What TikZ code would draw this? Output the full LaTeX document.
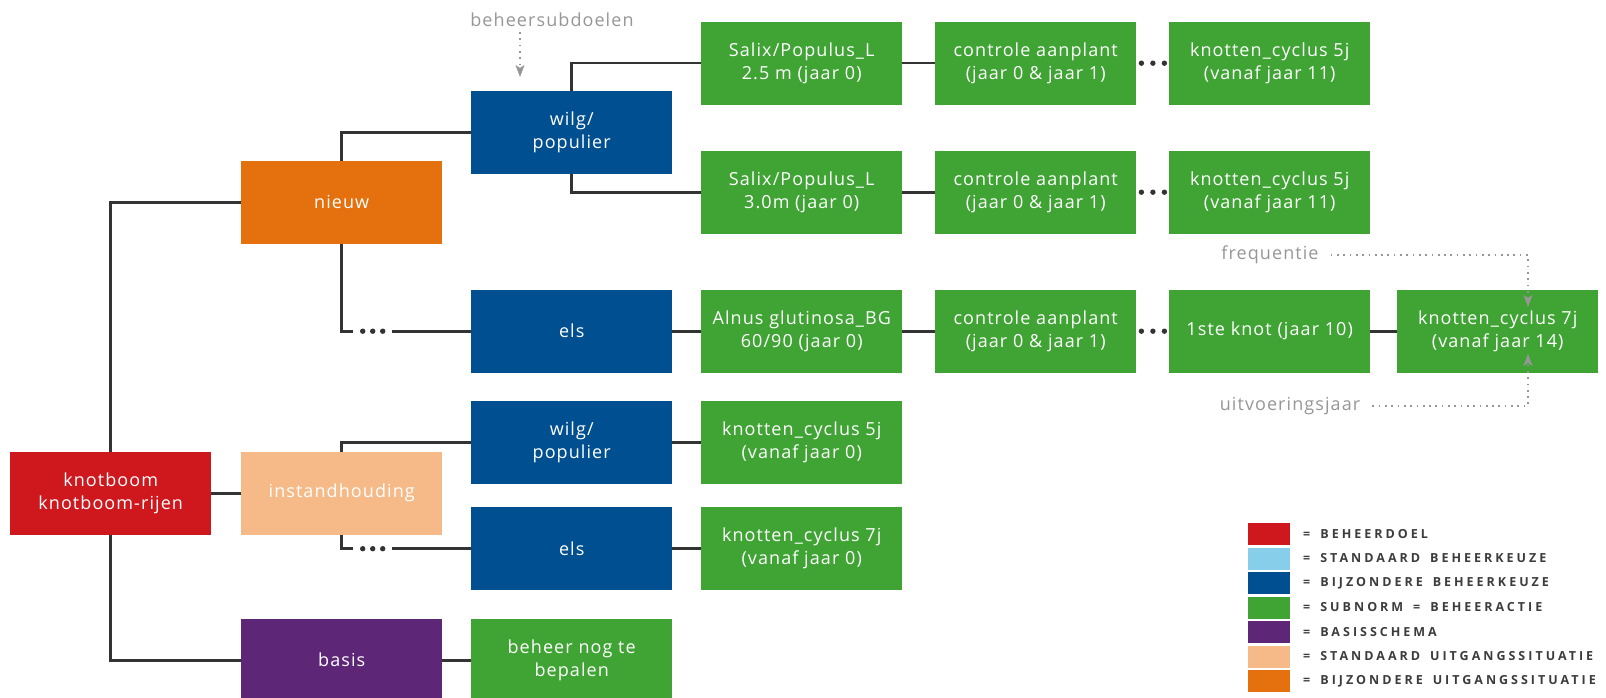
\documentclass[tikz,border=0pt]{standalone}
\usepackage{fontspec}
\setmainfont{Open Sans}
\newfontfamily\boxfnt[LetterSpace=6]{Open Sans}
\newfontfamily\legfnt[LetterSpace=24]{Open Sans}
\usetikzlibrary{arrows.meta}
\definecolor{cRed}{RGB}{206,24,30}
\definecolor{cBlueD}{RGB}{0,79,145}
\definecolor{cBlueL}{RGB}{135,206,234}
\definecolor{cGreen}{RGB}{64,164,53}
\definecolor{cPurple}{RGB}{93,38,118}
\definecolor{cPeach}{RGB}{245,186,136}
\definecolor{cOrange}{RGB}{229,112,14}
\definecolor{cConn}{RGB}{51,51,51}
\definecolor{cAnno}{RGB}{150,150,150}
\definecolor{cLeg}{RGB}{60,60,60}
\newcommand{\lsep}{\hspace{10pt}}
\tikzset{
  box/.style={anchor=north west, minimum width=201pt, minimum height=83pt, inner sep=0pt,
    align=center, text=white, font=\boxfnt\fontsize{18}{23}\selectfont},
  gbox/.style={box, fill=cGreen},
  conn/.style={draw=cConn, line width=2.6pt},
  dot/.style={fill=cConn},
  anno/.style={inner sep=0pt, text=cAnno, font=\boxfnt\fontsize{18}{23}\selectfont},
  annodot/.style={draw=cAnno, line width=1.7pt, dash pattern=on 1.7pt off 4.6pt},
  annotip/.style={draw=cAnno, fill=cAnno, line width=0.8pt,
    -{Stealth[length=12pt,width=9pt,inset=3pt]}},
  legsq/.style={minimum width=42pt, minimum height=22pt, inner sep=0pt},
  legtxt/.style={anchor=west, inner sep=0pt, text=cLeg, font=\legfnt\bfseries\fontsize{12.5}{15}\selectfont}
}
\begin{document}
\begin{tikzpicture}[x=1pt,y=-1pt]
\useasboundingbox (0,0) rectangle (1606,698);
% column 0-2
\node[box, fill=cRed] (kb) at (10,451.5) {knotboom\\knotboom-rijen};
\node[box, fill=cOrange] (nieuw) at (241,160.5) {nieuw};
\node[box, fill=cPeach] (inst) at (241,451.5) {instandhouding};
\node[box, fill=cPurple] (basis) at (241,618.5) {basis};
\node[box, fill=cBlueD] (wilgA) at (471,91) {wilg/\\populier};
\node[box, fill=cBlueD] (elsA) at (471,289.5) {els};
\node[box, fill=cBlueD] (wilgB) at (471,401) {wilg/\\populier};
\node[box, fill=cBlueD] (elsB) at (471,507) {els};
\node[gbox] (beheer) at (471,618.5) {beheer nog te\\bepalen};
% column 3
\node[gbox] (salA) at (701,21.5) {Salix/Populus\_L\\2.5 m (jaar 0)};
\node[gbox] (salB) at (701,150.5) {Salix/Populus\_L\\3.0m (jaar 0)};
\node[gbox] (alnus) at (701,289.5) {Alnus glutinosa\_BG\\60/90 (jaar 0)};
\node[gbox] (kcW) at (701,401) {knotten\_cyclus 5j\\(vanaf jaar 0)};
\node[gbox] (kcE) at (701,507) {knotten\_cyclus 7j\\(vanaf jaar 0)};
% column 4
\node[gbox] (conA) at (935,21.5) {controle aanplant\\(jaar 0 \& jaar 1)};
\node[gbox] (conB) at (935,150.5) {controle aanplant\\(jaar 0 \& jaar 1)};
\node[gbox] (conC) at (935,289.5) {controle aanplant\\(jaar 0 \& jaar 1)};
% column 5-6
\node[gbox] (kcA) at (1169,21.5) {knotten\_cyclus 5j\\(vanaf jaar 11)};
\node[gbox] (kcB) at (1169,150.5) {knotten\_cyclus 5j\\(vanaf jaar 11)};
\node[gbox] (iste) at (1169,289.5) {1ste knot (jaar 10)};
\node[gbox] (kc7) at (1397,289.5) {knotten\_cyclus 7j\\(vanaf jaar 14)};

% connectors
\draw[conn] (kb.north) |- (nieuw.west);
\draw[conn] (kb.south) |- (basis.west);
\draw[conn] (kb.east) -- (inst.west);
\draw[conn] (nieuw.north) |- (wilgA.west);
\draw[conn] (inst.north) |- (wilgB.west);
\draw[conn] (wilgA.north) |- (salA.west);
\draw[conn] (wilgA.south) |- (salB.west);
\draw[conn] (elsA.east) -- (alnus.west);
\draw[conn] (wilgB.east) -- (kcW.west);
\draw[conn] (elsB.east) -- (kcE.west);
\draw[conn] (basis.east) -- (beheer.west);
\draw[conn] (salA.east) -- (conA.west);
\draw[conn] (salB.east) -- (conB.west);
\draw[conn] (alnus.east) -- (conC.west);
\draw[conn] (iste.east) -- (kc7.west);
% three-dot links
\coordinate (eA) at (nieuw.south |- elsA.west);
\draw[conn] (nieuw.south) -- (eA) -- ++(11,0);
\foreach \d in {21,31,41} \fill[dot] ([xshift=\d pt]eA) circle (2.7pt);
\draw[conn] ([xshift=50pt]eA) -- (elsA.west);
\coordinate (eB) at (inst.south |- elsB.west);
\draw[conn] (inst.south) -- (eB) -- ++(11,0);
\foreach \d in {21,31,41} \fill[dot] ([xshift=\d pt]eB) circle (2.7pt);
\draw[conn] ([xshift=50pt]eB) -- (elsB.west);
\foreach \a in {conA,conB,conC} {
  \foreach \d in {5,16.5,28} \fill[dot] ([xshift=\d pt]\a.east) circle (2.7pt);
}

% annotations
\node[anno] (bsd) at (552,20) {beheersubdoelen};
\coordinate (bsdTip) at (520,77);
\draw[annodot] ([yshift=-5pt]bsd.south -| bsdTip) -- ([yshift=8pt]bsdTip);
\draw[annotip] ([yshift=2pt]bsdTip) -- (bsdTip);
\node[anno] (freq) at (1270,255) {frequentie};
\coordinate (fTip) at (1528,307);
\draw[annodot] ([xshift=12pt]freq.east) -| ([yshift=8pt]fTip);
\draw[annotip] ([yshift=2pt]fTip) -- (fTip);
\node[anno] (uitv) at (1290,406) {uitvoeringsjaar};
\coordinate (uTip) at (1528,354);
\draw[annodot] ([xshift=12pt]uitv.east) -| ([yshift=-8pt]uTip);
\draw[annotip] ([yshift=-2pt]uTip) -- (uTip);

% legend
\node[legsq, fill=cRed] (q1) at (1269,534) {};
\node[legsq, fill=cBlueL] (q2) at (1269,558.5) {};
\node[legsq, fill=cBlueD] (q3) at (1269,583) {};
\node[legsq, fill=cGreen] (q4) at (1269,607.5) {};
\node[legsq, fill=cPurple] (q5) at (1269,632) {};
\node[legsq, fill=cPeach] (q6) at (1269,656.5) {};
\node[legsq, fill=cOrange] (q7) at (1269,681) {};
\node[legtxt] (t1) at (1303,534) {=\lsep BEHEERDOEL};
\node[legtxt] (t2) at (1303,558.5) {=\lsep STANDAARD\lsep BEHEERKEUZE};
\node[legtxt] (t3) at (1303,583) {=\lsep BIJZONDERE\lsep BEHEERKEUZE};
\node[legtxt] (t4) at (1303,607.5) {=\lsep SUBNORM\lsep =\lsep BEHEERACTIE};
\node[legtxt] (t5) at (1303,632) {=\lsep BASISSCHEMA};
\node[legtxt] (t6) at (1303,656.5) {=\lsep STANDAARD\lsep UITGANGSSITUATIE};
\node[legtxt] (t7) at (1303,681) {=\lsep BIJZONDERE\lsep UITGANGSSITUATIE};
\end{tikzpicture}
\end{document}
